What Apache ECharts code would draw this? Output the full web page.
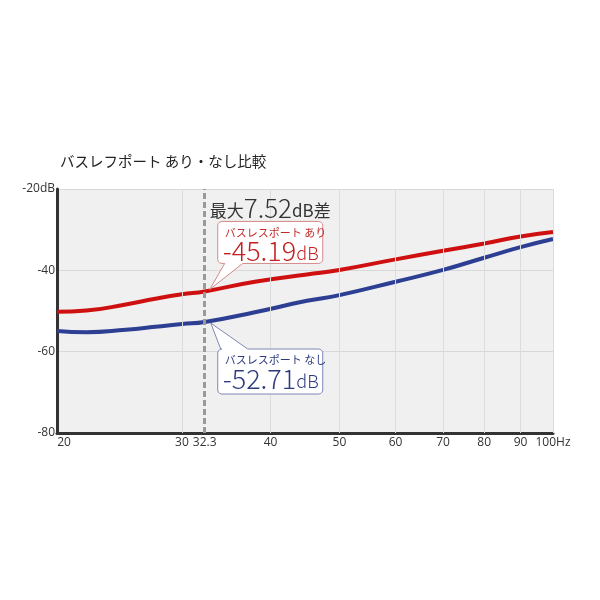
<!DOCTYPE html>
<html><head><meta charset="utf-8">
<script src="https://cdn.jsdelivr.net/npm/echarts@6/dist/echarts.min.js"></script>
<style>html,body{margin:0;padding:0;background:#fff}#c{width:600px;height:600px}</style>
</head><body><div id="c"></div>
<script>
const titleText = 'バスレフポート あり・なし比較';
const freqs = [20, 22, 25, 27.5, 30, 32.3, 38, 45, 50, 60, 70, 80, 90, 100];
const withPort = [-50.2, -49.9, -48.4, -47.0, -45.9, -45.19, -42.8, -41.0, -39.9, -37.3, -35.2, -33.4, -31.7, -30.6];
const withoutPort = [-54.9, -55.2, -54.6, -53.9, -53.2, -52.71, -50.3, -47.5, -46.1, -42.8, -39.9, -36.9, -34.3, -32.3];
const xTickValues = [20, 30, 40, 50, 60, 70, 80, 90, 100];
const xTickLabels = ['20', '30', '40', '50', '60', '70', '80', '90', '100Hz'];
const markFreq = 32.3;
const markFreqLabel = '32.3';
const withLabel = 'バスレスポート あり';
const withoutLabel = 'バスレスポート なし';
const diffValue = '7.52';
const yMin = -80, yMax = -20, yStep = 20;

const JP = '"Noto Sans CJK JP", sans-serif';
const RED = '#cf1010';
const BLUE = '#2c3f93';

const chart = echarts.init(document.getElementById('c'), null, {renderer: 'canvas'});

const gridMarks = xTickValues.map((v, i) => ({
  xAxis: v,
  lineStyle: i === 0 ? {color: 'rgba(0,0,0,0)', width: 0} : {color: '#dcdcdc', width: 1, type: 'solid'},
  label: {formatter: xTickLabels[i], offset: i === 0 ? [7, 0] : [0, 0]}
}));
gridMarks.push({
  xAxis: markFreq,
  lineStyle: {color: '#9a9a9a', width: 3, type: [6, 3]},
  label: {formatter: markFreqLabel}
});

chart.setOption({
  animation: false,
  backgroundColor: '#fff',
  title: {
    text: titleText, left: 55, top: 149,
    textStyle: {fontFamily: JP, fontSize: 14.5, fontWeight: 'normal', color: '#222'}
  },
  grid: {left: 57, right: 47, top: 189, bottom: 167, show: true, backgroundColor: '#f0f0f0', borderWidth: 0},
  xAxis: {
    type: 'log', logBase: 10, min: 20, max: 100,
    axisLine: {show: true, lineStyle: {color: '#333', width: 3}},
    axisTick: {show: false}, axisLabel: {show: false}, splitLine: {show: false}
  },
  yAxis: {
    type: 'value', min: yMin, max: yMax, interval: yStep,
    axisLine: {show: true, lineStyle: {color: '#333', width: 3}},
    axisTick: {show: false},
    axisLabel: {
      margin: 2, color: '#333', fontSize: 12, fontFamily: '"Open Sans", sans-serif',
      verticalAlign: 'middle', padding: [0, 0, 12, 0],
      formatter: v => v === yMax ? v + 'dB' : String(v)
    },
    splitLine: {show: true, lineStyle: {color: '#d8d8d8', width: 1}}
  },
  series: [
    {
      type: 'line', z: 1, data: [[20, -80]], showSymbol: false, symbol: 'none',
      lineStyle: {opacity: 0}, silent: true,
      markLine: {
        silent: true, symbol: ['none', 'none'], animation: false,
        label: {show: true, position: 'start', distance: 4, color: '#333', fontSize: 12, fontFamily: '"Open Sans", sans-serif'},
        data: gridMarks
      }
    },
    {
      name: withLabel, type: 'line', z: 3, smooth: 0.5, showSymbol: false, symbol: 'none',
      data: freqs.map((f, i) => [f, withPort[i]]),
      lineStyle: {color: RED, width: 4}
    },
    {
      name: withoutLabel, type: 'line', z: 3, smooth: 0.5, showSymbol: false, symbol: 'none',
      data: freqs.map((f, i) => [f, withoutPort[i]]),
      lineStyle: {color: BLUE, width: 4}
    }
  ]
});

const idx = freqs.indexOf(markFreq);
const pR = chart.convertToPixel({xAxisIndex: 0, yAxisIndex: 0}, [markFreq, withPort[idx]]);
const pB = chart.convertToPixel({xAxisIndex: 0, yAxisIndex: 0}, [markFreq, withoutPort[idx]]);

function corner(cx, cy, rad, a0) {
  const pts = [];
  for (let k = 0; k <= 3; k++) {
    const a = a0 + (Math.PI / 2) * (k / 3);
    pts.push([cx + rad * Math.cos(a), cy + rad * Math.sin(a)]);
  }
  return pts;
}
const rad = 4;
function boxBottomPointer(L, T, R, B, tx, ty) {
  return [].concat(
    corner(L + rad, T + rad, rad, Math.PI),
    corner(R - rad, T + rad, rad, -Math.PI / 2),
    corner(R - rad, B - rad, rad, 0),
    [[L + 25, B], [tx, ty], [L + 7, B]],
    corner(L + rad, B - rad, rad, Math.PI / 2)
  );
}
function boxTopPointer(L, T, R, B, tx, ty) {
  return [].concat(
    corner(L + rad, T + rad, rad, Math.PI),
    [[L + 3, T], [tx, ty], [L + 30, T]],
    corner(R - rad, T + rad, rad, -Math.PI / 2),
    corner(R - rad, B - rad, rad, 0),
    corner(L + rad, B - rad, rad, Math.PI / 2)
  );
}

const rL = pR[0] + 13, rR = pR[0] + 118, rT = pR[1] - 70, rB = pR[1] - 28;
const bL = pB[0] + 13, bR = pB[0] + 118, bT = pB[1] + 27, bB = pB[1] + 72;

chart.setOption({
  graphic: [
    {
      type: 'text', x: pR[0] + 5, y: pR[1] - 83, z: 10,
      style: {
        text: `{a|最大}{b|${diffValue}}{a|dB差}`,
        textVerticalAlign: 'middle',
        rich: {
          a: {fontFamily: JP, fontSize: 17, fill: '#333', verticalAlign: 'bottom', padding: [0, 0, 2, 0]},
          b: {fontFamily: JP, fontSize: 26, fontWeight: 300, fill: '#333', verticalAlign: 'bottom'}
        }
      }
    },
    {
      type: 'polygon', z: 10,
      shape: {points: boxBottomPointer(rL, rT, rR, rB, pR[0] + 5, pR[1] - 2)},
      style: {fill: '#fff', stroke: '#d58a8a', lineWidth: 1}
    },
    {
      type: 'text', z: 11, x: rL + 7, y: rT + 11,
      style: {text: withLabel, fill: '#c42a2a', font: '11px ' + JP, textVerticalAlign: 'middle'}
    },
    {
      type: 'text', z: 11, x: rL + 5, y: rT + 29,
      style: {
        text: `{n|${withPort[idx].toFixed(2)}}{u|dB}`,
        textVerticalAlign: 'middle',
        rich: {
          n: {fontFamily: JP, fontSize: 27, fontWeight: 300, fill: '#c42020', verticalAlign: 'bottom'},
          u: {fontFamily: JP, fontSize: 18, fontWeight: 300, fill: '#c42020', verticalAlign: 'bottom', padding: [0, 0, 2, 0]}
        }
      }
    },
    {
      type: 'polygon', z: 10,
      shape: {points: boxTopPointer(bL, bT, bR, bB, pB[0] + 6, pB[1] + 1)},
      style: {fill: '#fff', stroke: '#7d88b8', lineWidth: 1}
    },
    {
      type: 'text', z: 11, x: bL + 7, y: bT + 11,
      style: {text: withoutLabel, fill: '#2d3a7e', font: '11px ' + JP, textVerticalAlign: 'middle'}
    },
    {
      type: 'text', z: 11, x: bL + 5, y: bT + 30,
      style: {
        text: `{n|${withoutPort[idx].toFixed(2)}}{u|dB}`,
        textVerticalAlign: 'middle',
        rich: {
          n: {fontFamily: JP, fontSize: 27, fontWeight: 300, fill: '#2d3a7e', verticalAlign: 'bottom'},
          u: {fontFamily: JP, fontSize: 18, fontWeight: 300, fill: '#2d3a7e', verticalAlign: 'bottom', padding: [0, 0, 2, 0]}
        }
      }
    }
  ]
});
</script>
</body></html>
